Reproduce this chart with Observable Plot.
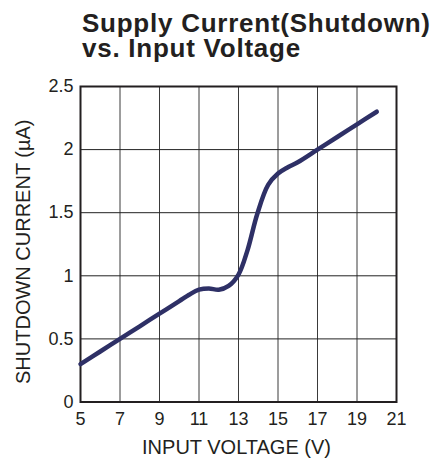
<!DOCTYPE html>
<html>
<head>
<meta charset="utf-8">
<script src="https://cdn.jsdelivr.net/npm/d3@7"></script>
<script src="https://cdn.jsdelivr.net/npm/@observablehq/plot@0.6"></script>
<style>
  html, body { margin: 0; padding: 0; background: #fff; }
  #title {
    font-family: "Liberation Sans", Arial, sans-serif;
    font-weight: bold;
    font-size: 26px;
    letter-spacing: 0.75px;
    line-height: 25px;
    color: #231f20;
    padding: 11px 0 0 82px;
    height: 50px;
    white-space: nowrap;
  }
  #title div { height: 25px; }
  #chart svg { display: block; }
</style>
</head>
<body>
<div id="title"><div>Supply Current(Shutdown)</div><div>vs. Input Voltage</div></div>
<div id="chart"></div>
<script>
const inputVoltage = [5, 6, 7, 8, 9, 10, 10.5, 11, 11.5, 12, 12.5, 13, 13.45, 13.95, 14.5, 15, 15.5, 16, 17, 18, 19, 20];
const shutdownCurrent = [0.30, 0.40, 0.50, 0.60, 0.70, 0.80, 0.85, 0.89, 0.90, 0.89, 0.92, 1.01, 1.20, 1.49, 1.72, 1.81, 1.86, 1.90, 2.00, 2.10, 2.20, 2.30];
const xTicks = [5, 7, 9, 11, 13, 15, 17, 19, 21];
const yTicks = [0, 0.5, 1, 1.5, 2, 2.5];
const yTickLabels = ["0", "0.5", "1", "1.5", "2", "2.5"];
const xLabel = "INPUT VOLTAGE (V)";
const yLabel = "SHUTDOWN CURRENT (µA)";

const data = inputVoltage.map((v, i) => ({v, c: shutdownCurrent[i]}));

const chart = Plot.plot({
  width: 434,
  height: 399,
  marginLeft: 80,
  marginRight: 38,
  marginTop: 25,
  marginBottom: 58.5,
  style: {fontFamily: "'Liberation Sans', Arial, sans-serif", background: "#fff", color: "#231f20"},
  x: {domain: [5, 21]},
  y: {domain: [0, 2.5]},
  marks: [
    Plot.gridX(xTicks, {stroke: "#3a3a3a", strokeOpacity: 1, strokeWidth: 1}),
    Plot.gridY(yTicks, {stroke: "#222", strokeOpacity: 1, strokeWidth: 1}),
    Plot.frame({stroke: "#231f20", strokeWidth: 2}),
    Plot.axisX({ticks: xTicks, tickSize: 0, tickPadding: 10, fontSize: 18, label: null}),
    Plot.axisY({ticks: yTicks, tickSize: 0, tickPadding: 7, fontSize: 18, label: null,
      tickFormat: d => yTickLabels[yTicks.indexOf(d)]}),
    Plot.line(data, {x: "v", y: "c", stroke: "#2e3066", strokeWidth: 4.5, curve: "catmull-rom"}),
    Plot.text([xLabel], {text: d => d, frameAnchor: "bottom", dy: 46, dx: -2, textAnchor: "middle", lineAnchor: "middle", fontSize: 20, fill: "#231f20"}),
    Plot.text([yLabel], {text: d => d, frameAnchor: "left", dx: -57, dy: 7.5, rotate: -90, textAnchor: "middle", lineAnchor: "middle", fontSize: 20, fill: "#231f20"})
  ]
});
document.getElementById("chart").appendChild(chart);
</script>
</body>
</html>
